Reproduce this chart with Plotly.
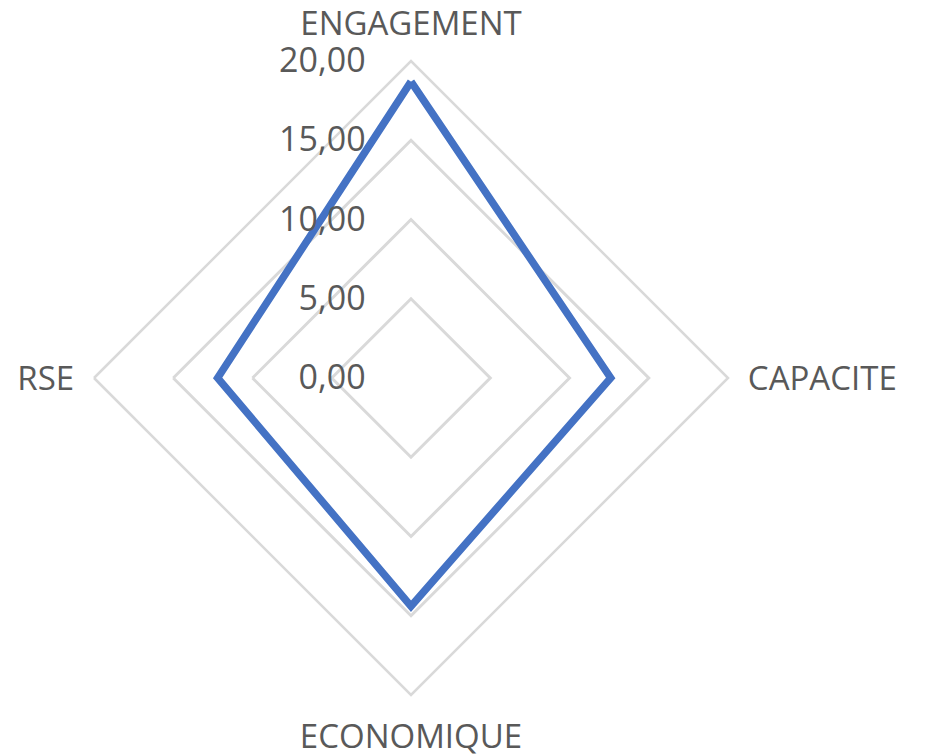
import plotly.graph_objects as go

categories = ["ENGAGEMENT", "CAPACITE", "ECONOMIQUE", "RSE"]
values = [18.7, 12.6, 14.4, 12.2]
radial_ticks = [0, 5, 10, 15, 20]

fig = go.Figure()
fig.add_trace(go.Scatterpolar(
    r=values + values[:1],
    theta=categories + categories[:1],
    mode="lines",
    line=dict(color="#4472C4", width=7.5),
    showlegend=False,
))

# page body has an 8px margin, so the domain is shifted up/left to compensate
fig.update_layout(
    width=928, height=756,
    margin=dict(l=0, r=0, t=0, b=0),
    paper_bgcolor="white",
    separators=", ",
    font=dict(family="Open Sans", size=33, color="#595959"),
    polar=dict(
        domain=dict(x=[86 / 928, 720 / 928], y=[69 / 756, 703 / 756]),
        bgcolor="white",
        gridshape="linear",
        radialaxis=dict(
            range=[0, 20], tickvals=radial_ticks, tickformat=".2f",
            angle=90, tickangle=90, side="counterclockwise",
            showline=False, ticks="outside", ticklen=33,
            tickcolor="rgba(0,0,0,0)", gridcolor="#D9D9D9", gridwidth=2.5,
            tickfont=dict(size=34, color="#595959"),
        ),
        angularaxis=dict(
            rotation=90, direction="clockwise",
            showgrid=False, showline=True, linecolor="#D9D9D9", linewidth=2.5,
            ticks="outside", ticklen=12, tickcolor="rgba(0,0,0,0)",
            tickfont=dict(size=33, color="#595959"),
        ),
    ),
)

fig.write_html("out.html")
